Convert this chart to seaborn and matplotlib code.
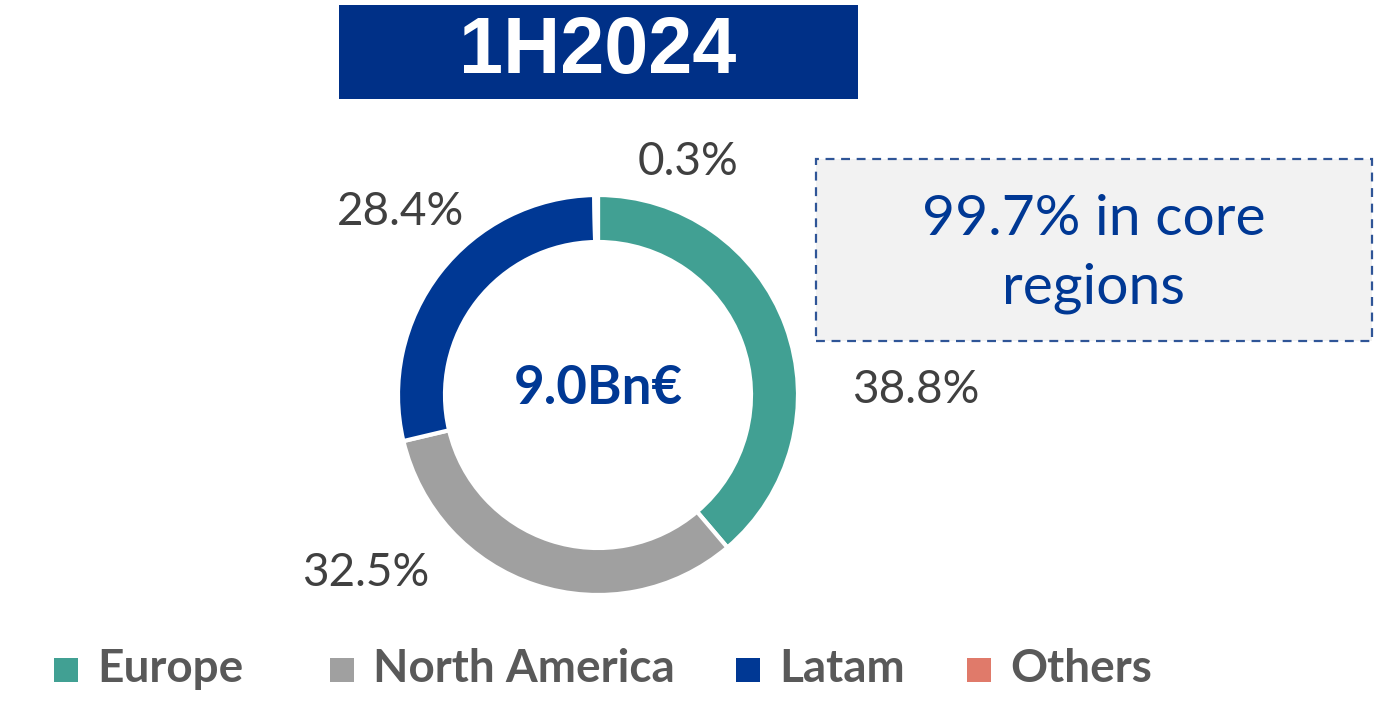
import matplotlib.pyplot as plt
import seaborn as sns
from matplotlib.patches import Rectangle

# Datos
regions = ["Europe", "North America", "Latam", "Others"]
shares = [38.8, 32.5, 28.4, 0.3]
share_labels = ["38.8%", "32.5%", "28.4%", "0.3%"]
colors = ["#41A093", "#A0A0A0", "#003894", "#E07A6A"]
period = "1H2024"
total_label = "9.0Bn€"
core_note = "99.7% in core\nregions"

sns.set_theme(style="white")
plt.rcParams["font.family"] = ["Lato", "DejaVu Sans"]
palette = sns.color_palette(colors)

W, H = 1384, 707
fig = plt.figure(figsize=(W / 100, H / 100), dpi=100)


def fx(px):
    return px / W


def fy(py):
    return 1 - py / H


# Donut
ax = fig.add_axes([fx(398), fy(595), 400 / W, 400 / H])
ax.pie(shares, colors=palette, startangle=90, counterclock=False,
       radius=1, wedgeprops=dict(width=0.235, edgecolor="white", linewidth=3))
ax.set_xlim(-1, 1)
ax.set_ylim(-1, 1)
ax.set_aspect("equal")
ax.axis("off")

ax.text(0, 0.035, total_label, ha="center", va="center", fontsize=38,
        fontweight="bold", color="#003894")

# Etiquetas de porcentaje
label_pos = [(916, 390), (366, 573), (400, 212), (688, 162)]
for lab, (px, py) in zip(share_labels, label_pos):
    fig.text(fx(px), fy(py), lab, ha="center", va="center", fontsize=33,
             color="#404040")

# Titulo
fig.patches.append(Rectangle((fx(339), fy(99)), fx(858) - fx(339), fy(5) - fy(99),
                             transform=fig.transFigure, facecolor="#003087",
                             edgecolor="none"))
fig.text(fx(598), fy(52), period, ha="center", va="center", fontsize=57,
         fontweight="bold", color="white", family="Liberation Sans")

# Caja con nota
fig.patches.append(Rectangle((fx(816), fy(341)), fx(1372) - fx(816), fy(159) - fy(341),
                             transform=fig.transFigure, facecolor="#F2F2F2",
                             edgecolor="#2F5597", linestyle=(0, (4, 3)),
                             linewidth=1.6))
fig.text(fx(1094), fy(254), core_note, ha="center", va="center", fontsize=41,
         color="#003894", linespacing=1.45)

# Leyenda
legend_x = [54, 330, 736, 967]
for name, col, x0 in zip(regions, palette, legend_x):
    fig.patches.append(Rectangle((fx(x0), fy(682)), 24 / W, 24 / H,
                                 transform=fig.transFigure, facecolor=col,
                                 edgecolor="none"))
    fig.text(fx(x0 + 43), fy(669), name, ha="left", va="center", fontsize=33,
             fontweight="bold", color="#595959")

plt.savefig("out.png", dpi=100)
plt.close()
